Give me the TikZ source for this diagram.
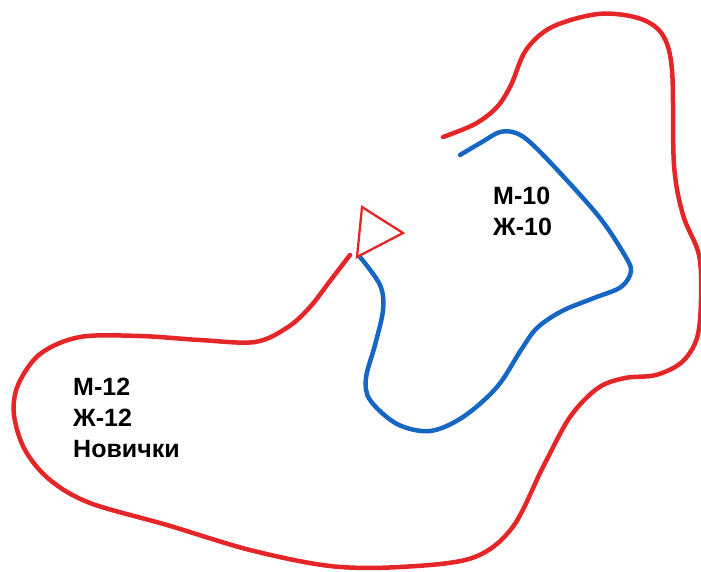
\documentclass[tikz,border=0pt]{standalone}
\usepackage{fontspec}
\setmainfont{Liberation Sans}
\definecolor{trackred}{RGB}{228,38,40}
\definecolor{trackblue}{RGB}{22,102,196}
\tikzset{
  redline/.style={draw=trackred, line width=4.5pt, line cap=round, line join=round},
  blueline/.style={draw=trackblue, line width=4.5pt, line cap=round, line join=round},
  lbl/.style={font=\bfseries\fontsize{25}{31}\selectfont, align=left, anchor=north west, inner sep=0pt}
}
\begin{document}
\begin{tikzpicture}[x=1pt,y=-1pt]
\useasboundingbox (0,0) rectangle (701,571);
% red course
\draw[redline] plot[smooth, tension=0.55] coordinates {
(350,255) (330,281) (310,307) (288,327) (255,342) (200,340) (140,336) (80,337)
(40,354) (18,385) (14,415) (25,450) (50,480) (90,503) (167,525) (250,550)
(330,566) (400,567) (472,558) (512,528) (543,467) (570,417) (598,388) (625,378)
(656,375) (682,362) (697,338) (701,300) (699,255) (683,215) (674,165) (672,70)
(662,34) (638,18) (598,14) (552,27) (526,50) (511,85) (497,107) (475,124) (443,137)};
% blue course
\draw[blueline] plot[smooth, tension=0.55] coordinates {
(460,155) (482,142) (500,132) (516,133) (532,144) (562,175) (600,218) (624,254)
(631,271) (621,287) (594,298) (562,311) (537,328) (521,350) (497,387) (463,417)
(430,431) (397,424) (370,400) (366,378) (375,345) (383,310) (380,285) (360,257)};
% start triangle
\draw[trackred, line width=2.3pt, line join=miter] (362,207) -- (403,233) -- (357,257) -- cycle;
\node[lbl] (a) at (493,187) {М-10\\Ж-10};
\node[lbl] (b) at (73,378) {М-12\\Ж-12\\Новички};
\end{tikzpicture}
\end{document}
